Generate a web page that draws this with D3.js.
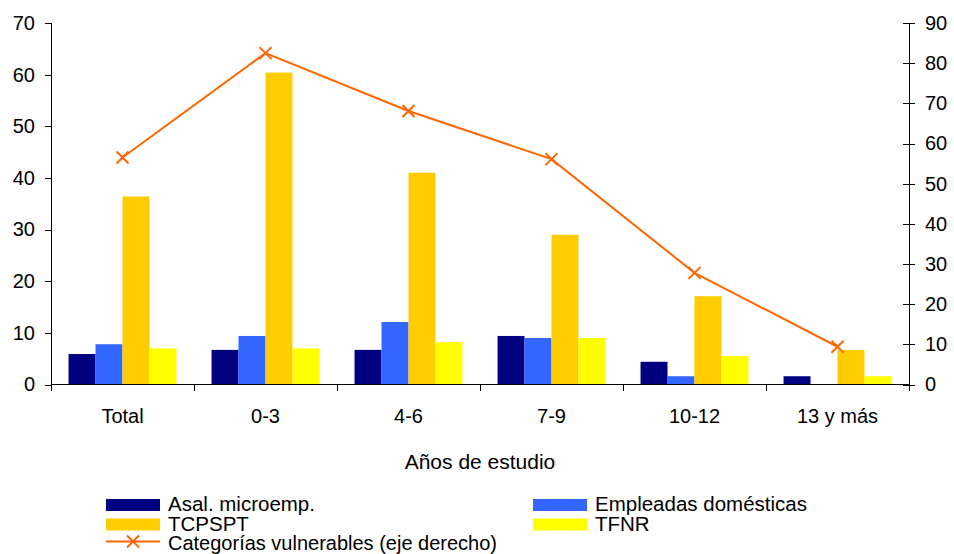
<!DOCTYPE html>
<html>
  <head>
    <meta charset="utf-8">
    <title></title>
    <style type="text/css">
        html, body{
            padding: 0px;
            margin: 0px;
            background: #fff;
            font-family: "Liberation Sans", Arial, sans-serif;
        }
        .axis text{
            font-size: 20px;
            fill: #000;
            font-family: "Liberation Sans", Arial, sans-serif;
        }
        .axis path, .axis line{
            stroke: #000;
            shape-rendering: crispEdges;
        }
    </style>
  </head>
  <body>
    <div id="vis"></div>
    <script src="https://cdnjs.cloudflare.com/ajax/libs/d3/7.8.5/d3.min.js"></script>
    <script type="text/javascript">

        // data
        var categories = ["Total", "0-3", "4-6", "7-9", "10-12", "13 y más"];
        var seriesNames = ["Asal. microemp.", "Empleadas domésticas", "TCPSPT", "TFNR"];
        var seriesColors = ["#000080", "#3366ff", "#ffcc00", "#ffff00"];
        var asal = [5.9, 6.7, 6.7, 9.4, 4.4, 1.6];
        var empleadas = [7.8, 9.4, 12.1, 9.0, 1.6, 0];
        var tcpspt = [36.4, 60.4, 41.0, 29.0, 17.1, 6.7];
        var tfnr = [7.0, 7.0, 8.2, 9.0, 5.5, 1.6];
        var vulnerables = [56.5, 82.5, 68.1, 56.1, 27.8, 9.4];
        var lineName = "Categorías vulnerables (eje derecho)";
        var leftTicks = [0, 10, 20, 30, 40, 50, 60, 70];
        var rightTicks = [0, 10, 20, 30, 40, 50, 60, 70, 80, 90];

        var series = [asal, empleadas, tcpspt, tfnr];

        var W = 954, H = 554;
        var mLeft = 51, mRight = 909, mTop = 23, mBottom = 384.5;

        var svg = d3.select("#vis").append("svg")
            .attr("width", W)
            .attr("height", H);

        var x = d3.scaleBand()
            .domain(categories)
            .range([mLeft, mRight])
            .paddingInner(0)
            .paddingOuter(0);

        var xInner = d3.scaleBand()
            .domain(d3.range(series.length))
            .range([0, x.bandwidth()])
            .paddingOuter(0.65)
            .paddingInner(0);

        var yL = d3.scaleLinear().domain([0, 70]).range([mBottom, mTop]);
        var yR = d3.scaleLinear().domain([0, 90]).range([mBottom, mTop]);

        // bars
        series.forEach(function(vals, si){
            svg.append("g")
                .selectAll("rect")
                .data(vals)
                .enter().append("rect")
                .attr("x", function(d, i){ return x(categories[i]) + xInner(si); })
                .attr("width", xInner.bandwidth())
                .attr("y", function(d){ return yL(d); })
                .attr("height", function(d){ return mBottom - yL(d); })
                .attr("fill", seriesColors[si]);
        });

        // left axis
        svg.append("g")
            .attr("class", "axis")
            .attr("transform", "translate(" + mLeft + ",0)")
            .call(d3.axisLeft(yL).tickValues(leftTicks).tickSizeOuter(0).tickSize(6).tickPadding(10));

        // right axis (ticks cross the line)
        var gR = svg.append("g")
            .attr("class", "axis")
            .attr("transform", "translate(" + mRight + ",0)")
            .call(d3.axisRight(yR).tickValues(rightTicks).tickSizeOuter(0).tickSize(6).tickPadding(10));
        gR.selectAll(".tick line").attr("x1", -6);

        // x axis
        var gX = svg.append("g")
            .attr("class", "axis")
            .attr("transform", "translate(0," + mBottom + ")");
        gX.append("line")
            .attr("x1", mLeft).attr("x2", mRight)
            .attr("y1", 0).attr("y2", 0);
        gX.selectAll("line.tk")
            .data(d3.range(categories.length + 1))
            .enter().append("line")
            .attr("class", "tk")
            .attr("x1", function(i){ return Math.round(mLeft + i * x.bandwidth()) + 0.5; })
            .attr("x2", function(i){ return Math.round(mLeft + i * x.bandwidth()) + 0.5; })
            .attr("y1", 0).attr("y2", 6);
        gX.selectAll("text")
            .data(categories)
            .enter().append("text")
            .attr("x", function(d){ return x(d) + x.bandwidth() / 2; })
            .attr("y", 38)
            .attr("text-anchor", "middle")
            .text(function(d){ return d; });

        svg.append("text")
            .attr("x", 480)
            .attr("y", 469)
            .attr("text-anchor", "middle")
            .style("font-size", "21px")
            .text("Años de estudio");

        // line
        var line = d3.line()
            .x(function(d, i){ return x(categories[i]) + x.bandwidth() / 2; })
            .y(function(d){ return yR(d); });

        svg.append("path")
            .datum(vulnerables)
            .attr("d", line)
            .attr("fill", "none")
            .attr("stroke", "#ff6600")
            .attr("stroke-width", 2);

        function cross(g, cx, cy, r){
            g.append("path")
                .attr("d", "M" + (cx - r) + "," + (cy - r) + "L" + (cx + r) + "," + (cy + r) +
                           "M" + (cx - r) + "," + (cy + r) + "L" + (cx + r) + "," + (cy - r))
                .attr("stroke", "#ff6600")
                .attr("stroke-width", 2)
                .attr("fill", "none");
        }

        vulnerables.forEach(function(d, i){
            cross(svg, x(categories[i]) + x.bandwidth() / 2, yR(d), 6);
        });

        // legend (rows sit tight, as in the original)
        var leg = svg.append("g");
        var legPos = [[106, 511], [533, 511], [106, 530.5], [533, 530.5]];
        seriesNames.forEach(function(name, i){
            leg.append("rect")
                .attr("x", legPos[i][0])
                .attr("y", legPos[i][1] - 12)
                .attr("width", 54)
                .attr("height", 12)
                .attr("fill", seriesColors[i]);
            leg.append("text")
                .attr("x", legPos[i][0] + 62)
                .attr("y", legPos[i][1])
                .style("font-size", "20.5px")
                .text(name);
        });
        leg.append("line")
            .attr("x1", 106).attr("x2", 160)
            .attr("y1", 541.5).attr("y2", 541.5)
            .attr("stroke", "#ff6600")
            .attr("stroke-width", 2);
        cross(leg, 133, 541.5, 6);
        leg.append("text")
            .attr("x", 168)
            .attr("y", 550)
            .attr("textLength", 329)
            .attr("lengthAdjust", "spacingAndGlyphs")
            .style("font-size", "20.5px")
            .text(lineName);

    </script>
  </body>
</html>
